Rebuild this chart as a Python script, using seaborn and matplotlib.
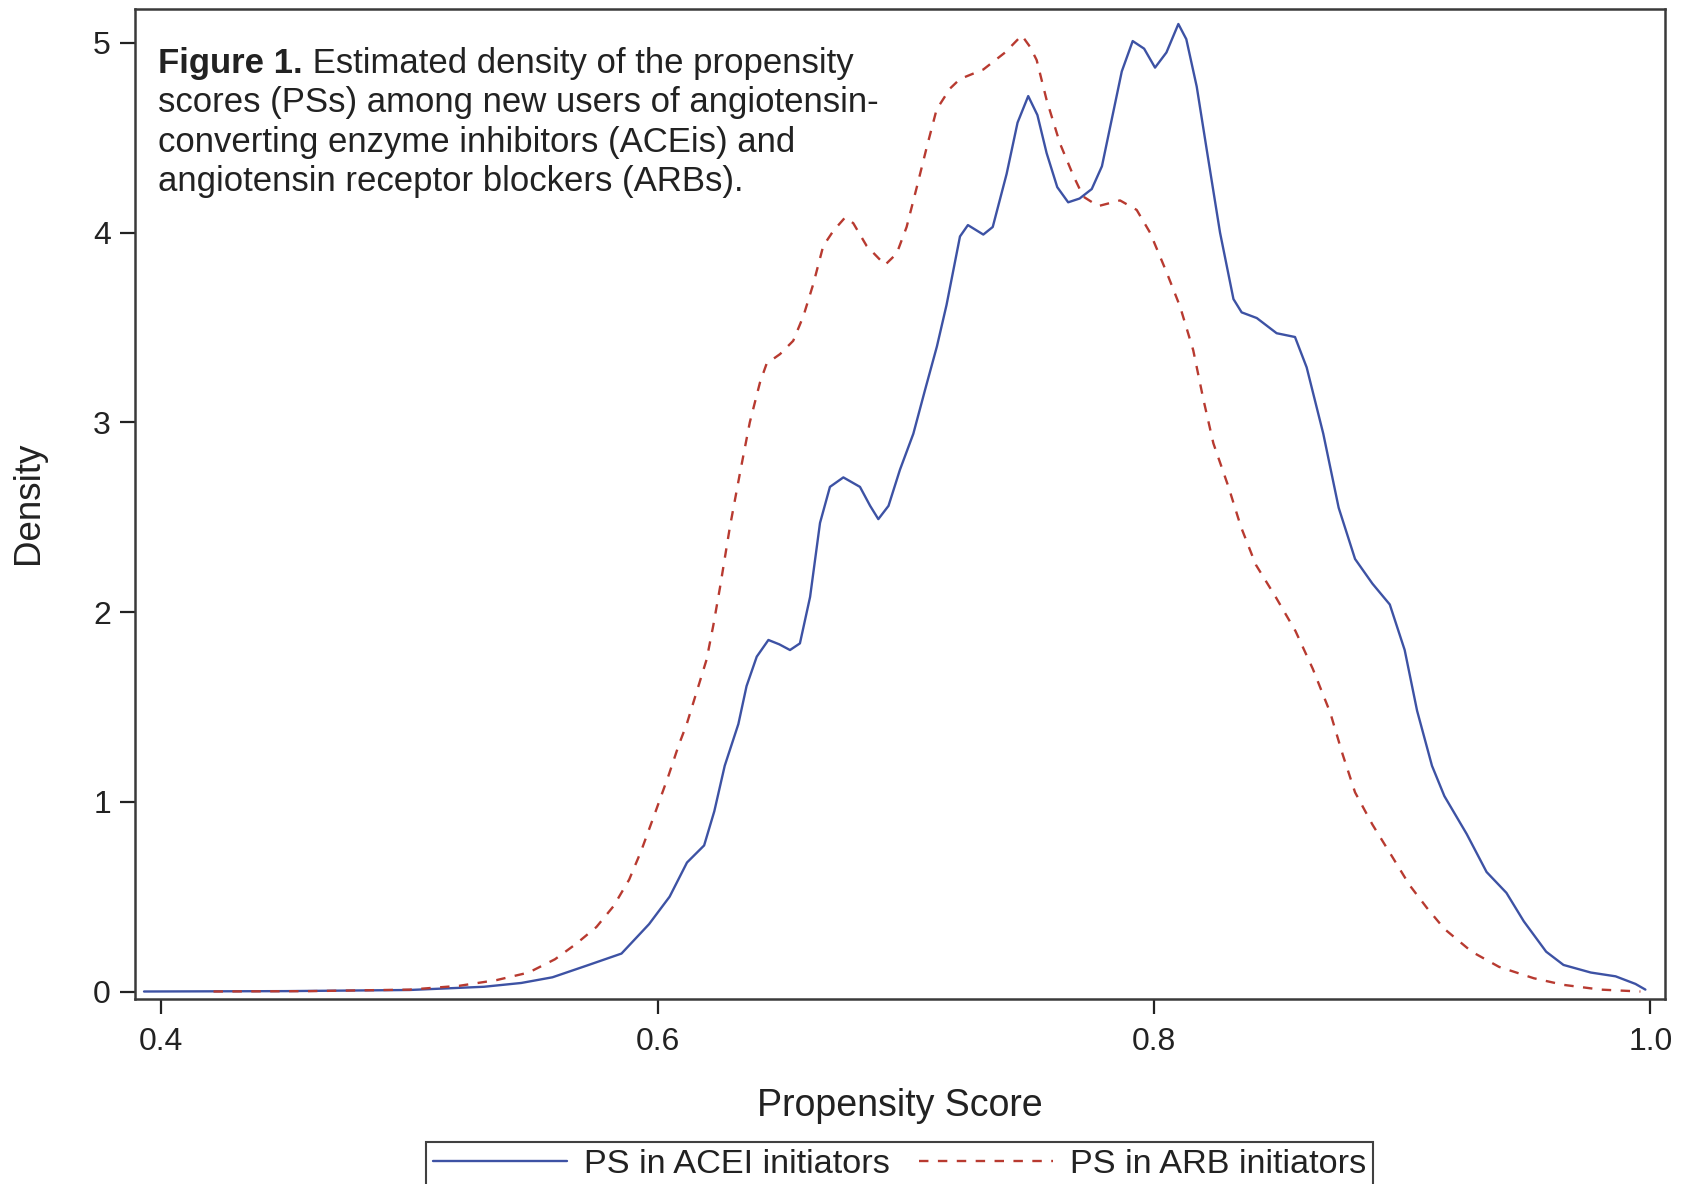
import numpy as np
import pandas as pd
import matplotlib
matplotlib.use("Agg")
import matplotlib.pyplot as plt
import seaborn as sns
from matplotlib.patches import Rectangle
from matplotlib import font_manager

# ---------------- data ----------------
acei_x = [0.393, 0.45, 0.50, 0.53, 0.545, 0.5576, 0.5715, 0.5854, 0.5965, 0.6048,
          0.6118, 0.6187, 0.6228, 0.627, 0.6325, 0.6358, 0.6399, 0.6446, 0.649, 0.6533,
          0.6573, 0.6614, 0.6654, 0.6694, 0.6748, 0.6815, 0.6856, 0.6889, 0.693, 0.6976,
          0.703, 0.7077, 0.7125, 0.7164, 0.7218, 0.725, 0.7312, 0.735, 0.7406, 0.745,
          0.7493, 0.753, 0.7567, 0.761, 0.7654, 0.770, 0.7749, 0.779, 0.783, 0.787,
          0.7914, 0.796, 0.8004, 0.805, 0.8098, 0.813, 0.8172, 0.8212, 0.8266, 0.832,
          0.8353, 0.8414, 0.8494, 0.8568, 0.8615, 0.8682, 0.8744, 0.881, 0.888, 0.895,
          0.901, 0.906, 0.912, 0.917, 0.926, 0.934, 0.942, 0.949, 0.958, 0.965,
          0.976, 0.986, 0.994, 0.998]
acei_y = [0.0, 0.002, 0.008, 0.025, 0.045, 0.075, 0.137, 0.20, 0.355, 0.50,
          0.68, 0.77, 0.95, 1.19, 1.41, 1.61, 1.765, 1.853, 1.83, 1.80,
          1.835, 2.08, 2.47, 2.66, 2.71, 2.66, 2.56, 2.49, 2.56, 2.75,
          2.94, 3.17, 3.40, 3.62, 3.98, 4.04, 3.99, 4.03, 4.31, 4.58,
          4.72, 4.62, 4.42, 4.24, 4.16, 4.18, 4.23, 4.35, 4.60, 4.85,
          5.01, 4.97, 4.87, 4.95, 5.10, 5.02, 4.77, 4.44, 4.00, 3.65,
          3.58, 3.55, 3.47, 3.45, 3.29, 2.94, 2.55, 2.28, 2.15, 2.04,
          1.80, 1.48, 1.19, 1.03, 0.83, 0.63, 0.52, 0.37, 0.21, 0.14,
          0.10, 0.08, 0.04, 0.01]

arb_x = [0.421, 0.46, 0.50, 0.52, 0.535, 0.548, 0.5586, 0.567, 0.5753, 0.5822,
         0.5885, 0.5933, 0.5989, 0.6044, 0.6085, 0.6117, 0.6157, 0.6197, 0.6224, 0.6251,
         0.6291, 0.6331, 0.6371, 0.6412, 0.6439, 0.6493, 0.6546, 0.6587, 0.6627, 0.6667,
         0.6708, 0.6755, 0.6788, 0.6842, 0.6916, 0.6963, 0.7003, 0.7044, 0.7084, 0.7124,
         0.7178, 0.7218, 0.7312, 0.740, 0.7467, 0.750, 0.7527, 0.7567, 0.7621, 0.7675,
         0.7715, 0.7775, 0.7863, 0.793, 0.7984, 0.8051, 0.8105, 0.8158, 0.8199, 0.8239,
         0.830, 0.835, 0.841, 0.849, 0.857, 0.864, 0.871, 0.876, 0.881, 0.888,
         0.896, 0.903, 0.910, 0.917, 0.928, 0.939, 0.953, 0.965, 0.980, 0.996]
arb_y = [0.0, 0.002, 0.01, 0.03, 0.06, 0.10, 0.17, 0.25, 0.34, 0.45,
         0.59, 0.74, 0.94, 1.14, 1.30, 1.41, 1.58, 1.75, 1.93, 2.13,
         2.45, 2.73, 3.00, 3.21, 3.31, 3.36, 3.43, 3.56, 3.73, 3.93,
         4.01, 4.08, 4.05, 3.93, 3.83, 3.89, 4.03, 4.24, 4.45, 4.65,
         4.76, 4.81, 4.86, 4.95, 5.04, 4.98, 4.91, 4.70, 4.47, 4.30,
         4.19, 4.14, 4.17, 4.12, 4.00, 3.79, 3.61, 3.38, 3.12, 2.89,
         2.66, 2.45, 2.25, 2.08, 1.90, 1.70, 1.47, 1.25, 1.05, 0.88,
         0.71, 0.56, 0.44, 0.33, 0.21, 0.13, 0.07, 0.035, 0.01, 0.0]

series_labels = ["PS in ACEI initiators", "PS in ARB initiators"]
x_ticks = [0.4, 0.6, 0.8, 1.0]
x_tick_labels = ["0.4", "0.6", "0.8", "1.0"]
y_ticks = [0, 1, 2, 3, 4, 5]
y_tick_labels = ["0", "1", "2", "3", "4", "5"]
x_label = "Propensity Score"
y_label = "Density"
caption_bold = "Figure 1."
caption_first = " Estimated density of the propensity"
caption_rest = ["scores (PSs) among new users of angiotensin-",
                "converting enzyme inhibitors (ACEis) and",
                "angiotensin receptor blockers (ARBs)."]

# ---------------- styling ----------------
sns.set_style("ticks")
plt.rcParams['font.family'] = ['Liberation Sans', 'DejaVu Sans']
installed = {f.name for f in font_manager.fontManager.ttflist}
TICK_FAMILY = ['Liberation Sans Narrow', 'Liberation Sans'] if 'Liberation Sans Narrow' in installed \
    else ['Liberation Sans']
TICK_SIZE = 26 if 'Liberation Sans Narrow' in installed else 23

BLUE = "#3D52A4"
RED = "#B83A30"
TXT = "#222222"

W, H = 1688, 1184
fig = plt.figure(figsize=(W / 100, H / 100), dpi=100)
left, right, top, bottom = 134.6 / W, 1665 / W, 1 - 9 / H, 1 - 999 / H
ax = fig.add_axes([left, bottom, right - left, top - bottom])

df = pd.concat([
    pd.DataFrame({"x": acei_x, "y": acei_y, "series": series_labels[0]}),
    pd.DataFrame({"x": arb_x, "y": arb_y, "series": series_labels[1]}),
], ignore_index=True)

sns.lineplot(data=df, x="x", y="y", hue="series", style="series",
             palette={series_labels[0]: BLUE, series_labels[1]: RED},
             dashes={series_labels[0]: "", series_labels[1]: (4, 4)},
             estimator=None, sort=True, linewidth=1.7, ax=ax, legend=True)
for ln in ax.get_lines():
    ln.set_solid_joinstyle("round")
    ln.set_dash_joinstyle("round")

ax.set_xlim(0.3892, 1.0059)
ax.set_ylim(-0.0395, 5.179)
ax.set_xticks(x_ticks)
ax.set_xticklabels(x_tick_labels)
ax.set_yticks(y_ticks)
ax.set_yticklabels(y_tick_labels)

for s in ax.spines.values():
    s.set_visible(True)
    s.set_color("#3a3a3a")
    s.set_linewidth(1.8)

ax.tick_params(axis="both", direction="out", length=11, width=1.6, color="#222222",
               labelsize=TICK_SIZE, labelcolor=TXT)
ax.tick_params(axis="x", pad=9)
ax.tick_params(axis="y", pad=6)
for lbl in ax.get_xticklabels() + ax.get_yticklabels():
    lbl.set_fontfamily(TICK_FAMILY)

ax.set_xlabel(x_label, fontsize=27, color=TXT)
ax.set_ylabel(y_label, fontsize=26.5, color=TXT)
ax.xaxis.set_label_coords(0.5, -0.090)
ax.xaxis.label.set_va("top")
ax.yaxis.set_label_coords(-0.058, 0.501)

# caption inside the plot
CAP = 25
cx, cy = 0.0153, 0.9354
t1 = ax.text(cx, cy, caption_bold, transform=ax.transAxes, fontsize=CAP,
             fontweight="bold", color=TXT, ha="left", va="baseline")
ax.annotate(caption_first, xy=(1, 0), xycoords=t1, fontsize=CAP, color=TXT,
            ha="left", va="bottom")
for i, line in enumerate(caption_rest):
    ax.annotate(line, xy=(cx, cy), xycoords="axes fraction",
                xytext=(0, -28.3 * (i + 1)), textcoords="offset points",
                fontsize=CAP, color=TXT, ha="left", va="baseline")

# legend below the plot
handles, labels = ax.get_legend_handles_labels()
ax.get_legend().remove()
leg = fig.legend(handles, labels, loc="upper center",
                 bbox_to_anchor=((left + right) / 2, 1 - 1142 / H),
                 ncol=2, fontsize=24.7, frameon=True, fancybox=False,
                 edgecolor="#111111", handlelength=3.9, handletextpad=0.5,
                 columnspacing=0.85, borderpad=0.2, borderaxespad=0)
leg.get_frame().set_linewidth(1.5)
for t in leg.get_texts():
    t.set_color(TXT)

# the reference image is cropped a little before its right edge
fig.patches.append(Rectangle((1674 / W, 0), 1, 1, transform=fig.transFigure,
                             facecolor="white", edgecolor="none", zorder=100))

fig.savefig("out.png", dpi=100)
